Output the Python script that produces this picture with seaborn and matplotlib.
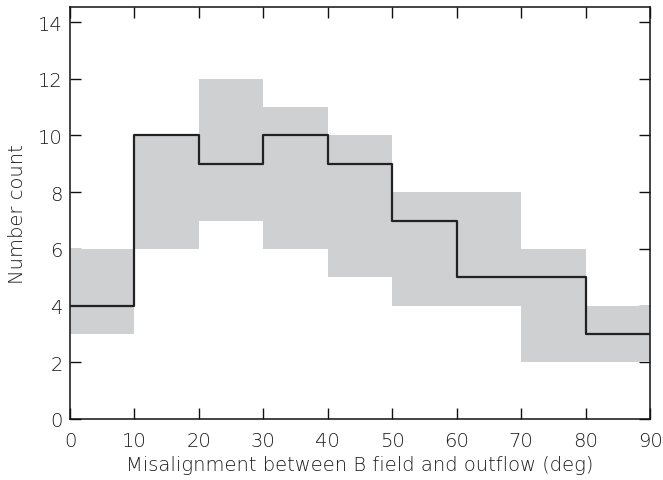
import numpy as np
import pandas as pd
import matplotlib
matplotlib.use("Agg")
import matplotlib.pyplot as plt
import seaborn as sns

# Histogram of misalignment angles (10-degree bins) with its uncertainty range
bin_edges = [0, 10, 20, 30, 40, 50, 60, 70, 80, 90]
counts = [4, 10, 9, 10, 9, 7, 5, 5, 3]
band_low = [3, 6, 7, 6, 5, 4, 4, 2, 2]
band_high = [6, 10, 12, 11, 10, 8, 8, 6, 4]

x_ticks = [0, 10, 20, 30, 40, 50, 60, 70, 80, 90]
y_ticks = [0, 2, 4, 6, 8, 10, 12, 14]

sns.set_style("ticks")
plt.rcParams["font.family"] = ["DejaVu Sans"]
plt.rcParams["font.weight"] = "light"

text_color = "#1a1a1a"

# Step arrays: repeat the last value so the final bin reaches the right edge
steps = pd.DataFrame({
    "angle": bin_edges,
    "count": counts + [counts[-1]],
    "low": band_low + [band_low[-1]],
    "high": band_high + [band_high[-1]],
})

fig = plt.figure(figsize=(6.63, 4.81), dpi=100)
ax = fig.add_axes([70 / 663, 61 / 481, 580 / 663, 412 / 481])

ax.fill_between(steps["angle"], steps["low"], steps["high"], step="post",
                color="#cfd0d2", linewidth=0, zorder=1)
sns.lineplot(data=steps, x="angle", y="count", drawstyle="steps-post",
             color="#222222", linewidth=1.6, ax=ax, zorder=3)

ax.set_xlim(0, 90)
ax.set_ylim(0, 14.53)
ax.set_xticks(x_ticks)
ax.set_yticks(y_ticks)
ax.tick_params(direction="in", length=8, width=1.0, top=True, right=True,
               labelsize=14, colors="#111111", labelcolor=text_color)
ax.tick_params(axis="x", pad=9)
ax.tick_params(axis="y", pad=5)
for s in ax.spines.values():
    s.set_linewidth(1.1)
    s.set_color("#111111")

ax.set_xlabel("Misalignment between B field and outflow (deg)", fontsize=14,
              color=text_color, labelpad=3, fontweight="light")
ax.set_ylabel("Number count", fontsize=14, color=text_color, labelpad=8,
              fontweight="light")
for t in ax.get_xticklabels() + ax.get_yticklabels():
    t.set_fontweight("light")

fig.savefig("out.png", dpi=100)
